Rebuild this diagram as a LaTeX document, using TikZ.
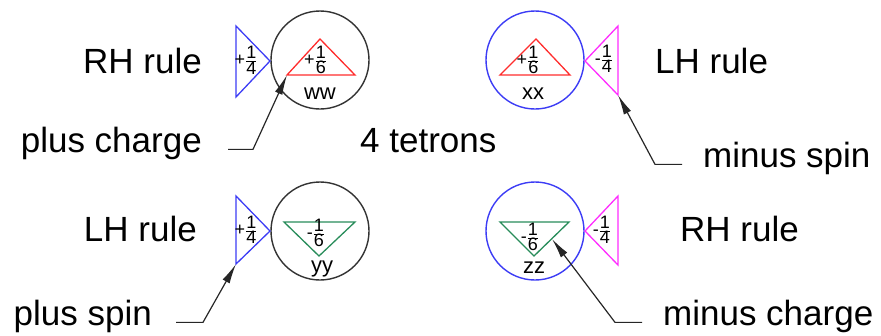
\documentclass[tikz,border=0pt]{standalone}
\usepackage{fontspec}
\setmainfont{Liberation Sans}
\usetikzlibrary{arrows.meta}

\definecolor{ruleblue}{RGB}{60,60,245}
\definecolor{tetred}{RGB}{255,45,45}
\definecolor{tetgreen}{RGB}{40,140,90}
\definecolor{spinmag}{RGB}{255,45,255}

\tikzstyle{every node}=[inner sep=0pt]
\tikzstyle{caption}=[font={\fontsize{35}{40}\selectfont}]
\tikzstyle{tetron}=[draw=black!80, circle, minimum size=98pt, line width=1.4pt]
\tikzstyle{tag}=[font={\fontsize{22}{24}\selectfont}]
\tikzstyle{val}=[font={\fontsize{18}{18}\selectfont}]
\tikzstyle{edge}=[line width=1.3pt]
\tikzstyle{pointer}=[draw=black!85, line width=1.2pt, -{Latex[length=20pt,width=8pt]}]

\newcommand{\fracval}[3]{#1$\frac{\mbox{#2}}{\mbox{#3}}$}

\begin{document}
\begin{tikzpicture}[x=1pt,y=-1pt]
    \useasboundingbox (0,0) rectangle (881,335);

    % circles
    \node [tetron] (ww) at (320,60) {};
    \node [tetron, draw=ruleblue] (xx) at (535,60) {};
    \node [tetron] (yy) at (320,231) {};
    \node [tetron, draw=ruleblue] (zz) at (535,231) {};

    % triangles
    \draw [edge, ruleblue] (236,26) -- (270,61) -- (236,97) -- cycle;
    \draw [edge, tetred] (287,75) coordinate (wwL) -- (320,39) -- (355,75) -- cycle;
    \draw [edge, tetred] (500,75) -- (536,39) -- (570,75) -- cycle;
    \draw [edge, spinmag] (618,26) -- (585,61) -- (618,95) coordinate (xxB) -- cycle;
    \draw [edge, ruleblue] (236,196) -- (270,231) -- (236,264) coordinate (yyB) -- cycle;
    \draw [edge, tetgreen] (284,222) -- (355,222) -- (319,256) -- cycle;
    \draw [edge, tetgreen] (500,222) -- (569,222) -- (534,256) -- cycle;
    \draw [edge, spinmag] (618,196) -- (585,231) -- (618,265) -- cycle;
    \coordinate (zzR) at (552,239);

    % values
    \node [val] at (315.5,60) {\fracval{+}{1}{6}};
    \node [val] at (246,60.5) {\fracval{+}{1}{4}};
    \node [val] at (528,60) {\fracval{+}{1}{6}};
    \node [val] at (604,59) {\fracval{-}{1}{4}};
    \node [val] at (316,233) {\fracval{-}{1}{6}};
    \node [val] at (246,230) {\fracval{+}{1}{4}};
    \node [val] at (530,237) {\fracval{-}{1}{6}};
    \node [val] at (602,230) {\fracval{-}{1}{4}};

    % names
    \node [tag] at (320,93.5) {ww};
    \node [tag] at (533,93.5) {xx};
    \node [tag] at (322,268.5) {yy};
    \node [tag] at (534,267.5) {zz};

    % captions
    \node [caption, anchor=base east] (rhTop) at (202,73) {RH rule};
    \node [caption, anchor=base west] (lhTop) at (655,73) {LH rule};
    \node [caption, anchor=base east] (lhBot) at (197,241) {LH rule};
    \node [caption, anchor=base west] (rhBot) at (680,241) {RH rule};
    \node [caption, anchor=base west] (count) at (360,152) {4 tetrons};
    \node [caption, anchor=base east] (plusCharge) at (202,152) {plus charge};
    \node [caption, anchor=base west] (minusSpin) at (703,167) {minus spin};
    \node [caption, anchor=base east] (plusSpin) at (152,325) {plus spin};
    \node [caption, anchor=base west] (minusCharge) at (663,325) {minus charge};

    % pointers
    \draw [pointer] ([xshift=26pt]plusCharge.mid east) -- ++(25,0) -- (wwL);
    \draw [pointer] ([xshift=-21pt]minusSpin.mid west) -- ++(-27,0) -- (xxB);
    \draw [pointer] ([xshift=24pt]plusSpin.mid east) -- ++(27,0) -- (yyB);
    \draw [pointer] ([xshift=-21pt]minusCharge.mid west) -- ++(-27,0) -- (zzR);
\end{tikzpicture}
\end{document}
